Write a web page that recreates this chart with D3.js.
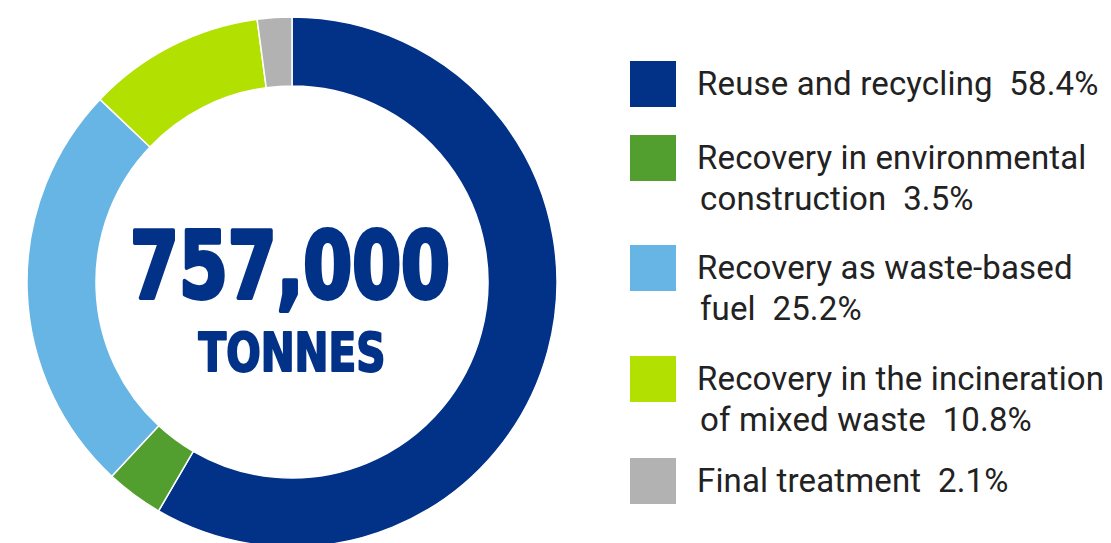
<!DOCTYPE html>
<html>
<head>
<meta charset="utf-8">
<script src="https://cdn.jsdelivr.net/npm/d3@7"></script>
<style>
  html, body { margin: 0; padding: 0; background: #fff; }
  svg { display: block; }
  .legend text { white-space: pre; }
</style>
</head>
<body>
<svg id="chart" width="1111" height="543"></svg>
<script>
// Waste treatment breakdown (share of total, %)
const categories = [
  "Reuse and recycling",
  "Recovery in environmental construction",
  "Recovery as waste-based fuel",
  "Recovery in the incineration of mixed waste",
  "Final treatment"
];
const values = [58.4, 3.5, 25.2, 10.8, 2.1];
const colors = ["#023288", "#529e2f", "#66b5e4", "#b1e001", "#b2b2b2"];
// Legend text as wrapped lines; the percentage goes on the last line
const legendLines = [
  ["Reuse and recycling"],
  ["Recovery in environmental", "construction"],
  ["Recovery as waste-based", "fuel"],
  ["Recovery in the incineration", "of mixed waste"],
  ["Final treatment"]
];
const totalLabel = "757,000";
const unitLabel = "TONNES";

const svg = d3.select("#chart");

// Donut
const cx = 292, cy = 282, outerR = 265, innerR = 196;
const data = categories.map((c, i) => ({ name: c, value: values[i], color: colors[i] }));
const pie = d3.pie().value(d => d.value).sort(null);
const arc = d3.arc().innerRadius(innerR).outerRadius(outerR);

const g = svg.append("g").attr("transform", `translate(${cx},${cy})`);
g.selectAll("path")
  .data(pie(data))
  .join("path")
  .attr("d", arc)
  .attr("fill", d => d.data.color)
  .attr("stroke", "#fff")
  .attr("stroke-width", 1.5);

// Total in the middle (stroked to get a heavier face)
g.append("text")
  .attr("x", -2)
  .attr("y", 16)
  .attr("text-anchor", "middle")
  .attr("font-family", "'DejaVu Sans Condensed', 'DejaVu Sans', sans-serif")
  .attr("font-weight", "bold")
  .attr("font-size", 92)
  .attr("textLength", 320)
  .attr("lengthAdjust", "spacingAndGlyphs")
  .attr("fill", "#023288")
  .attr("stroke", "#023288")
  .attr("stroke-width", 4)
  .attr("stroke-linejoin", "round")
  .text(totalLabel);

g.append("text")
  .attr("x", 0)
  .attr("y", 88.5)
  .attr("text-anchor", "middle")
  .attr("font-family", "'DejaVu Sans Condensed', 'DejaVu Sans', sans-serif")
  .attr("font-weight", "bold")
  .attr("font-size", 53)
  .attr("textLength", 187)
  .attr("lengthAdjust", "spacingAndGlyphs")
  .attr("fill", "#023288")
  .attr("stroke", "#023288")
  .attr("stroke-width", 2)
  .attr("stroke-linejoin", "round")
  .text(unitLabel);

// Legend
const legendTops = [61, 135, 245, 356, 458];
const legend = svg.append("g").attr("class", "legend");
const item = legend.selectAll("g")
  .data(data)
  .join("g")
  .attr("transform", (d, i) => `translate(630,${legendTops[i]})`);

item.append("rect")
  .attr("width", 46)
  .attr("height", 46)
  .attr("fill", d => d.color);

item.each(function(d, i) {
  const lines = legendLines[i].slice();
  lines[lines.length - 1] = lines[lines.length - 1] + "  " + d3.format(".1f")(d.value) + "%";
  const t = d3.select(this).append("text")
    .attr("font-family", "Roboto, 'Noto Sans', sans-serif")
    .attr("font-size", 33)
    .attr("letter-spacing", 0.15)
    .attr("fill", "#222");
  lines.forEach((ln, j) => {
    t.append("tspan")
      .attr("x", j === 0 ? 67 : 70)
      .attr("y", 34 + j * 41)
      .text(ln);
  });
});
</script>
</body>
</html>
